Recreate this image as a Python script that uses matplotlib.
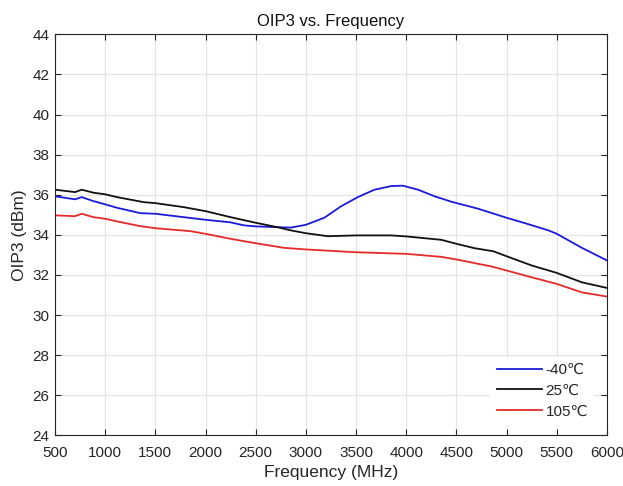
import matplotlib
matplotlib.use("Agg")
import matplotlib.pyplot as plt

plt.rcParams['font.family'] = ['Liberation Sans', 'DejaVu Sans']

# OIP3 measurements per temperature (frequency in MHz, OIP3 in dBm)
freq_m40 = [500, 700, 767, 883, 1000, 1117, 1350, 1500, 1783, 2000, 2250, 2383,
            2500, 2717, 2850, 3000, 3183, 3350, 3517, 3683, 3850, 3967, 4117,
            4283, 4450, 4717, 5000, 5183, 5417, 5500, 5750, 6000]
oip3_m40 = [35.92, 35.77, 35.88, 35.68, 35.52, 35.35, 35.08, 35.05, 34.88, 34.75,
            34.62, 34.47, 34.42, 34.38, 34.36, 34.5, 34.85, 35.42, 35.88, 36.25,
            36.43, 36.45, 36.25, 35.92, 35.65, 35.3, 34.85, 34.58, 34.22, 34.05,
            33.35, 32.72]

freq_25 = [500, 700, 767, 883, 1000, 1117, 1383, 1500, 1783, 2000, 2250, 2500,
           2717, 2850, 3000, 3217, 3500, 3850, 4000, 4350, 4500, 4683, 4867,
           5000, 5250, 5500, 5750, 6000]
oip3_25 = [36.25, 36.13, 36.25, 36.1, 36.02, 35.88, 35.63, 35.58, 35.38, 35.18,
           34.88, 34.6, 34.38, 34.22, 34.08, 33.93, 33.97, 33.97, 33.92, 33.75,
           33.55, 33.33, 33.18, 32.93, 32.47, 32.1, 31.63, 31.35]

freq_105 = [500, 700, 767, 883, 1000, 1117, 1350, 1500, 1850, 2000, 2250, 2500,
            2783, 3000, 3500, 4000, 4350, 4500, 4850, 5000, 5250, 5500, 5750, 6000]
oip3_105 = [34.97, 34.93, 35.05, 34.88, 34.8, 34.67, 34.43, 34.33, 34.18, 34.05,
            33.8, 33.58, 33.35, 33.27, 33.13, 33.05, 32.9, 32.77, 32.42, 32.22,
            31.88, 31.55, 31.13, 30.92]

x_ticks = list(range(500, 6001, 500))
y_ticks = list(range(24, 45, 2))

fig = plt.figure(figsize=(6.23, 4.86), dpi=100)
ax = fig.add_axes([0.0883, 0.1043, 0.886, 0.8251])

ax.plot(freq_m40, oip3_m40, color='#1a1ad8', lw=1.3, label='-40℃')
ax.plot(freq_25, oip3_25, color='#111111', lw=1.3, label='25℃')
ax.plot(freq_105, oip3_105, color='#e52a2a', lw=1.3, label='105℃')

ax.set_xlim(500, 6000)
ax.set_ylim(24, 44)
ax.set_xticks(x_ticks)
ax.set_yticks(y_ticks)
ax.grid(True, color='#e3e3e3', lw=0.8)
ax.set_axisbelow(True)

axis_col = '#262626'
for s in ax.spines.values():
    s.set_color(axis_col)
    s.set_linewidth(0.8)
ax.tick_params(direction='in', length=4, width=0.8, colors=axis_col,
               labelsize=11, top=True, right=True, labeltop=False,
               labelright=False)
ax.tick_params(axis='x', pad=8)
ax.tick_params(axis='y', pad=4)
for lbl in ax.get_xticklabels() + ax.get_yticklabels():
    lbl.set_color(axis_col)

ax.set_title('OIP3 vs. Frequency', fontsize=12, color='#111111', pad=6)
ax.set_xlabel('Frequency (MHz)', fontsize=12.5, color=axis_col, labelpad=3)
ax.set_ylabel('OIP3 (dBm)', fontsize=12.5, color=axis_col, labelpad=4)

leg = ax.legend(loc='lower right', frameon=True, fontsize=11,
                handlelength=3.0, handletextpad=0.2, labelspacing=0.45,
                borderaxespad=0.3, bbox_to_anchor=(0.985, 0.015))
leg.get_frame().set_edgecolor('none')
leg.get_frame().set_facecolor('white')
leg.get_frame().set_alpha(1.0)
for t in leg.get_texts():
    t.set_color(axis_col)

fig.savefig('out.png', dpi=100, facecolor='white')
